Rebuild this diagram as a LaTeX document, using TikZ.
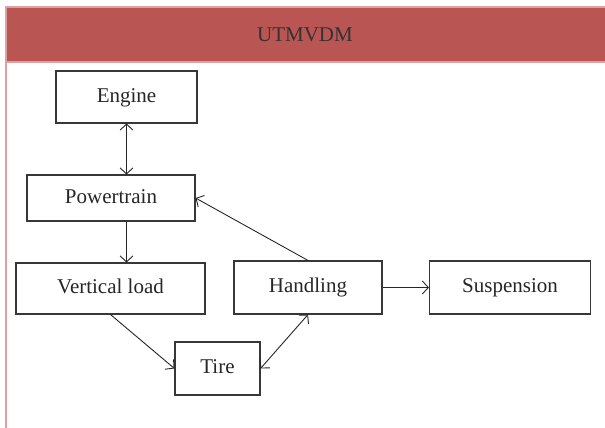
\documentclass[tikz,border=0pt]{standalone}
\usepackage{fontspec}
\setmainfont{Liberation Serif}
\usepackage{tikz}
\usetikzlibrary{arrows.meta}
\usepackage{xcolor}
\definecolor{headred}{RGB}{185,85,82}
\definecolor{headline}{RGB}{222,160,160}
\definecolor{boxgray}{RGB}{55,55,55}
\tikzset{
    block/.style={draw=boxgray, line width=1.1pt, fill=white, text=black!85, font=\fontsize{21}{25}\selectfont, inner sep=0pt, text height=14pt, text depth=4pt},
    link/.style={draw=black!85, line width=0.9pt, -{Straight Barb[length=6pt,width=13pt]}},
    dlink/.style={link, {Straight Barb[length=6pt,width=13pt]}-{Straight Barb[length=6pt,width=13pt]}}
}

\begin{document}
\begin{tikzpicture}[x=1pt,y=-1pt]
        \useasboundingbox (0,0) rectangle (605,428);
        \fill[headred] (6,7) rectangle (605,62);
        \draw[headline, line width=1.2pt] (605,7) -- (6,7) -- (6,428);
        \draw[headline, line width=1.2pt] (6,62) -- (605,62);
        \node[text=black!80, font=\fontsize{21}{25}\selectfont] (title) at (305,35) {UTMVDM};
        \node[block, minimum width=141pt, minimum height=52pt] (engine) at (126.5,97) {Engine};
        \node[block, minimum width=168pt, minimum height=46pt] (powertrain) at (111,198) {Powertrain};
        \node[block, minimum width=189pt, minimum height=51pt] (vload) at (110.5,288.5) {Vertical load};
        \node[block, minimum width=148pt, minimum height=53pt] (handling) at (308,287.5) {Handling};
        \node[block, minimum width=161pt, minimum height=53pt] (suspension) at (510,287.5) {Suspension};
        \node[block, minimum width=85pt, minimum height=53pt] (tire) at (217.5,368.5) {Tire};
        \draw[dlink] (engine.south) -- (engine.south |- powertrain.north);
        \draw[link] (powertrain.south -| engine.south) -- (vload.north -| engine.south);
        \draw[link] (handling.north) -- (powertrain.east);
        \draw[link] (vload.south) -- (tire.west);
        \draw[dlink] (handling.south) -- (tire.east);
        \draw[link] (handling.east) -- (suspension.west);
    \end{tikzpicture}
\end{document}
